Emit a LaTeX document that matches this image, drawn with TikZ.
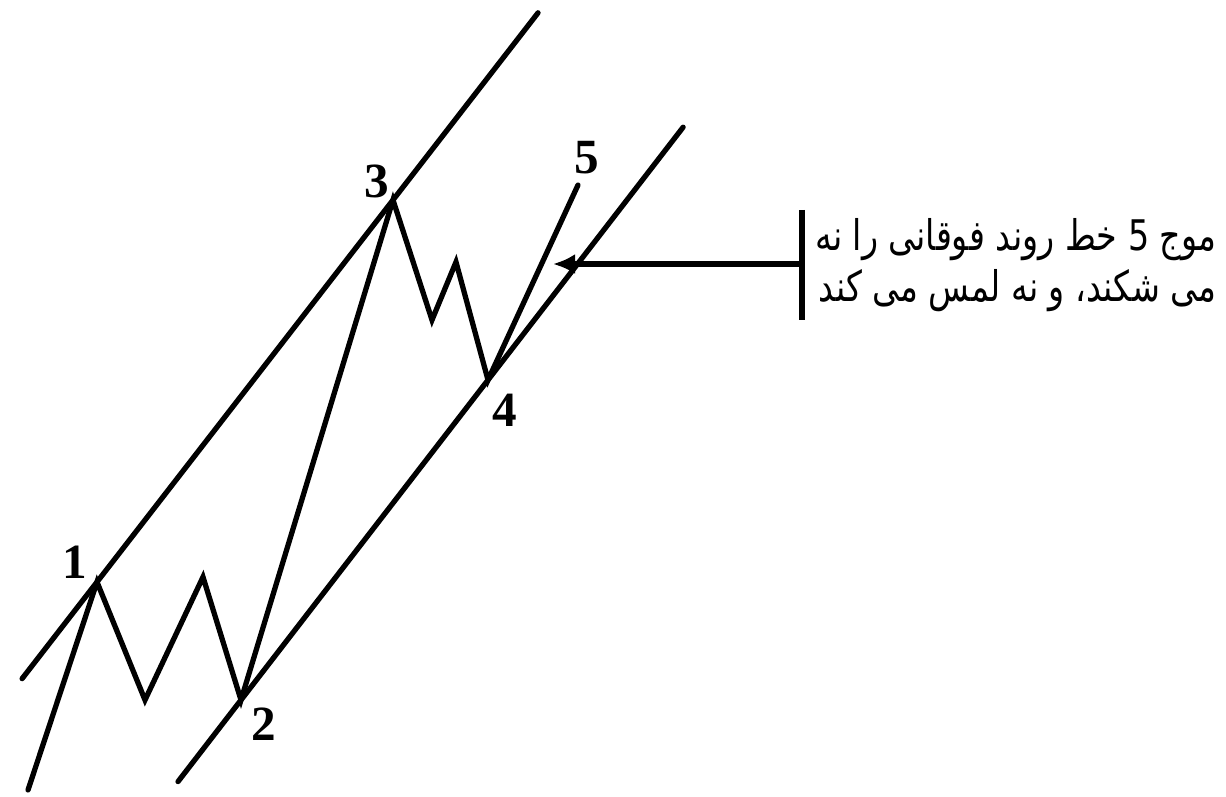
\documentclass[tikz,border=0pt]{standalone}
\usepackage{fontspec}
\setmainfont{Liberation Serif}
\newfontfamily\arabicfont[Script=Arabic]{DejaVu Sans}
\TeXXeTstate=1
\usetikzlibrary{arrows.meta,calc}

\begin{document}
\begin{tikzpicture}[
    trend/.style={line width=1.5pt, line cap=round},
    wave/.style={line width=1.5pt, line cap=round, line join=miter},
    wavelabel/.style={font=\fontsize{14}{14}\selectfont\bfseries, inner sep=0pt}]

  \useasboundingbox (0,0) rectangle (12.26,7.96);

  % wave points
  \coordinate (p0) at (0.28,0.06);
  \coordinate (p1) at (0.97,2.14);
  \coordinate (a1) at (1.45,0.96);
  \coordinate (b1) at (2.03,2.19);
  \coordinate (p2) at (2.41,0.96);
  \coordinate (p3) at (3.93,5.96);
  \coordinate (a3) at (4.32,4.76);
  \coordinate (b3) at (4.56,5.34);
  \coordinate (p4) at (4.88,4.16);
  \coordinate (p5) at (5.78,6.11);

  % trend lines
  \coordinate (up0) at ($(p1)!-0.253!(p3)$);
  \coordinate (up1) at ($(p1)!1.49!(p3)$);
  \coordinate (lo0) at ($(p2)!-0.255!(p4)$);
  \coordinate (lo1) at ($(p2)!1.79!(p4)$);
  \draw[trend] (up0) -- (up1);
  \draw[trend] (lo0) -- (lo1);

  \draw[wave] (p0) -- (p1) -- (a1) -- (b1) -- (p2) -- (p3) -- (a3) -- (b3) -- (p4) -- (p5);

  % labels
  \node[wavelabel] (l1) at (0.75,2.34) {1};
  \node[wavelabel] (l2) at (2.64,0.72) {2};
  \node[wavelabel] (l3) at (3.77,6.15) {3};
  \node[wavelabel] (l4) at (5.05,3.86) {4};
  \node[wavelabel] (l5) at (5.87,6.38) {5};

  % note
  \coordinate (bartop) at (8.02,5.86);
  \coordinate (barbot) at (8.02,4.76);
  \coordinate (barmid) at (8.02,5.32);
  \coordinate (tip) at (5.53,5.32);
  \draw[line width=1.5pt] (bartop) -- (barbot);
  \draw[line width=1.5pt, -{Latex[length=2.2mm,width=2mm]}] (barmid) -- (tip);
  \node[anchor=east, align=right, inner sep=0pt, xscale=0.79, transform shape,
        font=\arabicfont\fontsize{12}{14.5}\selectfont] (note) at (12.17,5.31)
    {\beginR موج 5 خط روند فوقانی را نه\endR\\\beginR می شکند، و نه لمس می کند\endR};

\end{tikzpicture}
\end{document}
